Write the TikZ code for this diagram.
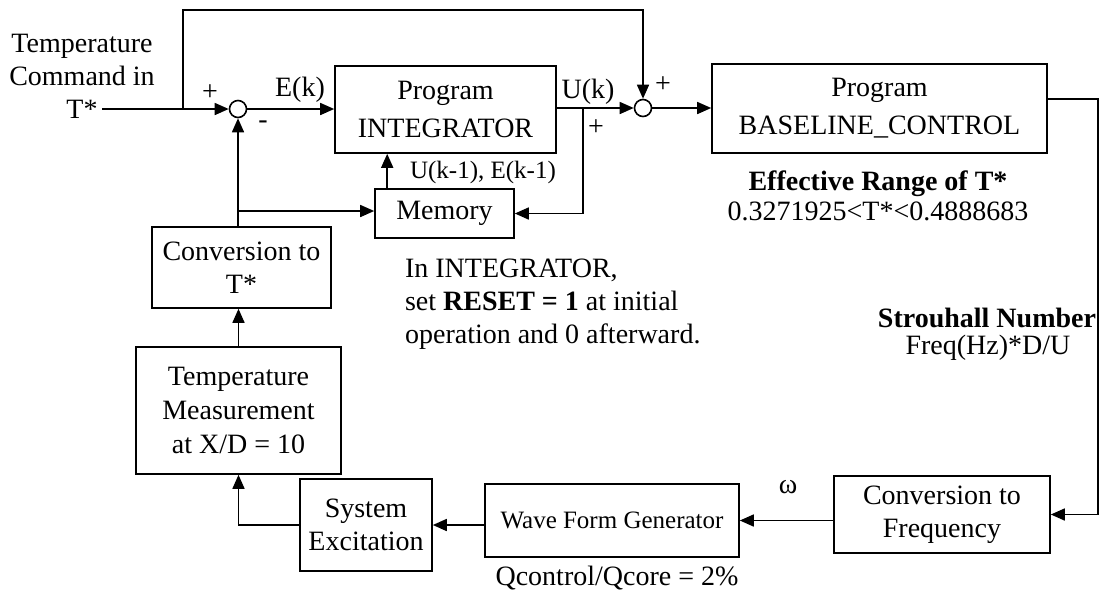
\documentclass[tikz,border=0pt]{standalone}
\usepackage{fontspec}
\setmainfont{Liberation Serif}
\usetikzlibrary{arrows.meta}

\begin{document}
\begin{tikzpicture}[x=0.5pt,y=-0.5pt,
  every node/.style={font=\fontsize{14pt}{16.5pt}\selectfont},
  block/.style={draw,line width=0.8pt,inner sep=0pt,align=center},
  sumpt/.style={draw,line width=0.8pt,circle,inner sep=0pt,minimum size=8.5pt},
  arr/.style={line width=0.8pt,-{Triangle[length=7pt,width=6pt]}}]
\useasboundingbox (0,0) rectangle (1102,596);
%%%%%%%%% blocks
\node[block,minimum width=110.5pt,minimum height=43.5pt] (int) at (445.5,109.5) {Program\\[2.5pt]INTEGRATOR};
\node[block,minimum width=69.5pt,minimum height=24.5pt] (mem) at (444.5,213.5) {Memory};
\node[block,minimum width=167.5pt,minimum height=44.5pt] (base) at (879.5,108.5) {Program\\[2.5pt]BASELINE\_CONTROL};
\node[block,minimum width=89.5pt,minimum height=40.5pt] (ct) at (241.5,267.5) {Conversion to\\T*};
\node[block,minimum width=102.5pt,minimum height=63.5pt] (tm) at (238.5,410.5) {Temperature\\[0.5pt]Measurement\\[0.5pt]at X/D = 10};
\node[block,minimum width=66pt,minimum height=46pt] (se) at (366,525) {System\\Excitation};
\node[block,minimum width=127pt,minimum height=36.5pt,font=\fontsize{12.5pt}{15pt}\selectfont] (wf) at (612,520.5) {Wave Form Generator};
\node[block,minimum width=108pt,minimum height=38.5pt] (cf) at (942,514.5) {Conversion to\\Frequency};
\node[sumpt] (s1) at (238,109) {};
\node[sumpt] (s2) at (643,108) {};
%%%%%%%%% branch points
\coordinate (in) at (102,109);
\coordinate (tap1) at (183,109);
\coordinate (top) at (183,10);
\coordinate (tap2) at (583,108);
\coordinate (tap3) at (238,211);
\coordinate (out) at (1098,99);
%%%%%%%%% connectors
\draw[arr] (in) -- (s1);
\draw[arr] (tap1) -- (top) -| (s2);
\draw[arr] (s1) -- (int.west |- s1);
\draw[arr] (int.east |- s2) -- (s2);
\draw[arr] (tap2) |- (mem.east);
\draw[arr] ([xshift=6.5pt]mem.north west) -- ([xshift=6.5pt]mem.north west |- int.south);
\draw[arr] (s2) -- (base.west |- s2);
\draw[arr] ([yshift=4.75pt]base.east) -- (out) |- (cf.east);
\draw[arr] (cf.west |- wf.east) -- (wf.east);
\draw[arr] (wf.west |- se.east) -- (se.east);
\draw[arr] (se.west) -| (tm.south);
\draw[arr] (tm.north) -- (tm.north |- ct.south);
\draw[arr] (ct.north -| s1) -- (s1);
\draw[arr] (tap3) -- (mem.west |- tap3);
%%%%%%%%% labels
\node[align=center] (cmd) at (82,76) {Temperature\\Command in\\T*};
\node (ek) at (300,90) {E(k)};
\node (uk) at (588,92) {U(k)};
\node[font=\fontsize{12.5pt}{15pt}\selectfont] (ukm) at (483,172) {U(k-1), E(k-1)};
\node (p1) at (210,93) {+};
\node (m1) at (263,125) {-};
\node (p2) at (663,85) {+};
\node (p3) at (596,128) {+};
\node[anchor=north west,align=left] (note) at (398,252) {In INTEGRATOR,\\set \textbf{RESET = 1} at initial\\operation and 0 afterward.};
\node (rng) at (878,184) {\textbf{Effective Range of T*}};
\node (rngv) at (878,211) {0.3271925<T*<0.4888683};
\node (str) at (987,318) {\textbf{Strouhall Number}};
\node (strv) at (988,348) {Freq(Hz)*D/U};
\node (om) at (788,487) {ω};
\node (q) at (617,578) {Qcontrol/Qcore = 2\%};
\end{tikzpicture}
\end{document}
